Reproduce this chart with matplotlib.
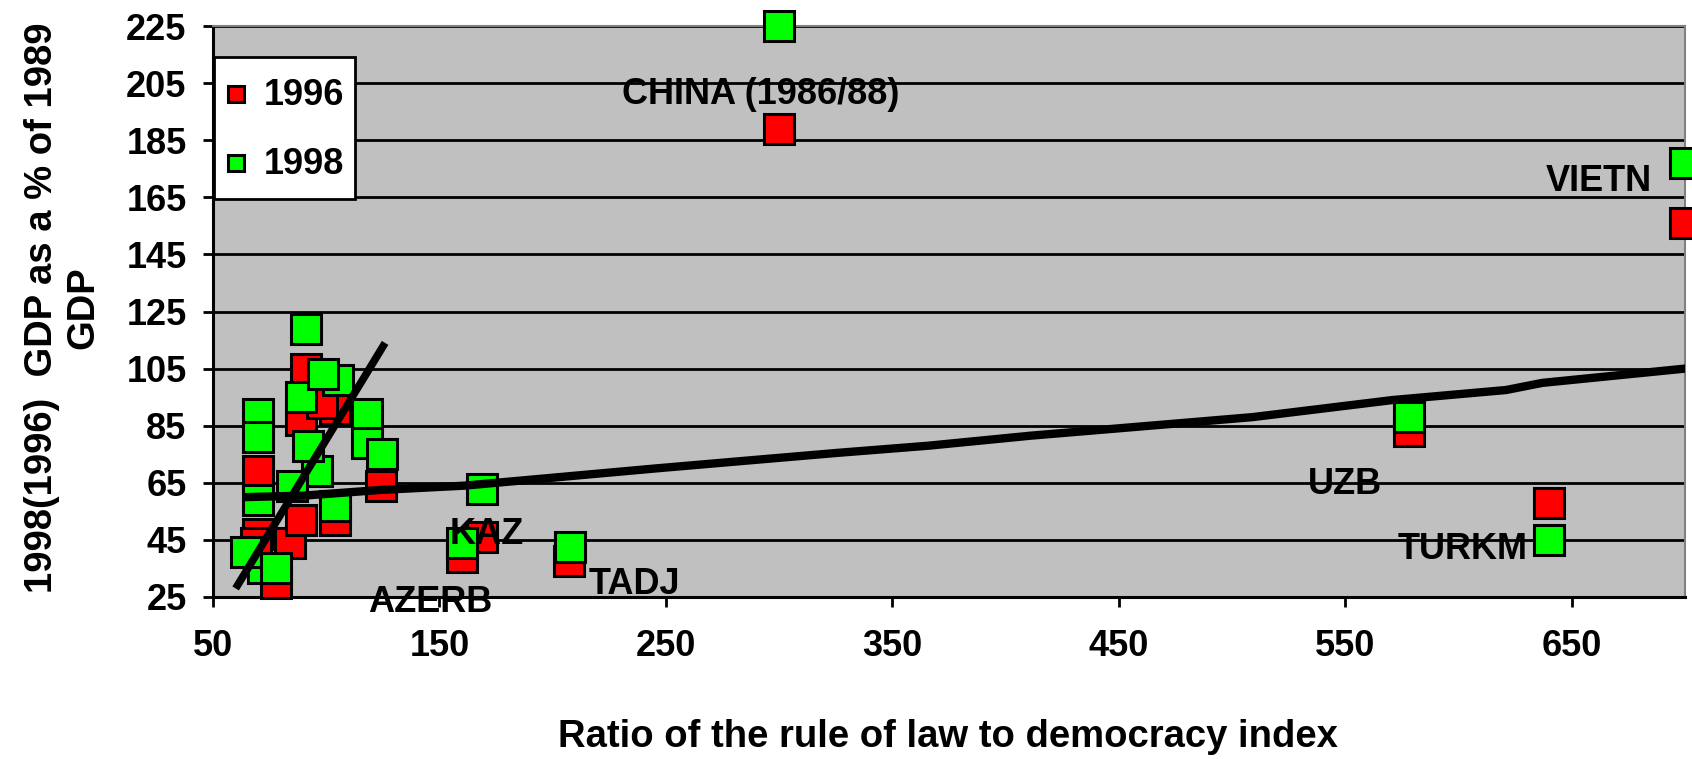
import numpy as np
import matplotlib
matplotlib.use('Agg')
import matplotlib.pyplot as plt

plt.rcParams['font.family'] = ['Liberation Sans', 'DejaVu Sans']
plt.rcParams['font.weight'] = 'bold'

# ratio of rule of law to democracy index, GDP as % of 1989
x96 = [70, 70, 69, 84, 78, 91, 89, 104, 98, 104, 89, 124, 160, 169, 207, 300, 578, 640, 700]
y96 = [69, 47, 44, 44, 30, 105, 87, 91, 93, 52, 52, 64, 39, 46, 37.5, 189, 83, 58, 156]

x98 = [72, 70, 70, 70, 64.5, 78, 91, 105, 89, 98.5, 118, 118, 124.5, 96, 92, 104, 85, 160, 169, 207.5, 300, 578, 640, 700]
y98 = [35, 89, 81, 59, 40.6, 35, 119, 101, 95, 103, 89, 79, 75, 69, 78, 57, 64, 44, 63, 42.6, 225, 88, 45, 177]

# trend lines
steep_x = [60, 126]
steep_y = [28, 114]
trend_x = [65, 90, 124, 161, 203, 245, 289, 326, 366, 411, 509, 571, 621, 637, 700]
trend_y = [60, 60.5, 62.5, 64, 67, 70, 73, 75.5, 78, 81.5, 88, 94, 97.5, 100, 105]

labels = ['CHINA (1986/88)', 'VIETN', 'UZB', 'TURKM', 'KAZ', 'TADJ', 'AZERB']
label_x = [292, 662, 550, 602, 171, 236, 146]
label_y = [201, 170.5, 64.5, 41.5, 47, 29.5, 23]

fs = 26
fig = plt.figure(figsize=(16.92, 7.59), dpi=100)
ax = fig.add_axes([213/1692, 1-597/759, 1472/1692, 571/759])
ax.set_facecolor('#c0c0c0')

mk = dict(marker='s', ms=21, mew=2.2, mec='black', ls='none', clip_on=False)
ax.plot(x96, y96, mfc='#ff0000', label='1996', zorder=3, **mk)
ax.plot(x98, y98, mfc='#00ff00', label='1998', zorder=4, **mk)

ax.plot(steep_x, steep_y, color='black', lw=5.5, zorder=5, solid_capstyle='butt')
ax.plot(trend_x, trend_y, color='black', lw=6, zorder=5)

for t, lx, ly in zip(labels, label_x, label_y):
    ax.text(lx, ly, t, ha='center', va='center', fontsize=fs, fontweight='bold', zorder=6)

ax.set_xlim(50, 700)
ax.set_ylim(25, 225)
ax.set_xticks(np.arange(50, 701, 100))
ax.set_yticks(np.arange(25, 226, 20))
ax.yaxis.grid(True, color='black', lw=2)
ax.set_axisbelow(True)
ax.tick_params(axis='both', direction='out', length=7, width=2, labelsize=fs)
ax.tick_params(axis='y', pad=12)
ax.tick_params(axis='x', pad=16)
for lab in ax.get_xticklabels() + ax.get_yticklabels():
    lab.set_fontweight('bold')

for s in ['left', 'bottom']:
    ax.spines[s].set_linewidth(2.2)
    ax.spines[s].set_color('black')
for s in ['top', 'right']:
    ax.spines[s].set_linewidth(1.5)
    ax.spines[s].set_color('#808080')

leg = ax.legend(loc='upper left', bbox_to_anchor=(0.001, 0.946), borderaxespad=0,
                fancybox=False, framealpha=1, edgecolor='black',
                prop={'family': 'Liberation Sans', 'weight': 'bold', 'size': fs},
                markerscale=0.52, handlelength=0.6, handleheight=1.8,
                handletextpad=0.46, labelspacing=0.5, borderpad=0.3)
leg.get_frame().set_linewidth(2)
leg.set_zorder(10)
# drop the legend squares to the middle of the text rows
for h in leg.legend_handles:
    h.set_ydata(np.asarray(h.get_ydata(), dtype=float) - 5.4)

fig.text(63/1692, 1-308/759, '1998(1996)  GDP as a % of 1989\nGDP', rotation=90,
         ha='center', va='center', fontsize=27.5, fontweight='bold', linespacing=1.2,
         multialignment='center')
fig.text(948/1692, 1-737/759, 'Ratio of the rule of law to democracy index',
         ha='center', va='center', fontsize=27.5, fontweight='bold')

fig.savefig('out.png', dpi=100)
